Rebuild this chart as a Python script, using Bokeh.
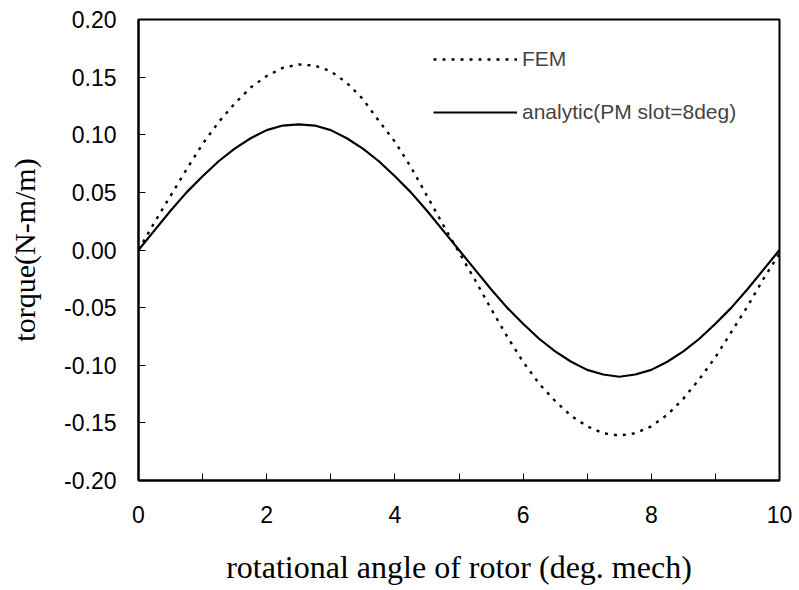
from bokeh.plotting import figure
from bokeh.models import FixedTicker, PrintfTickFormatter, Legend, LegendItem, Range1d
from bokeh.embed import file_html
from bokeh.resources import INLINE

angle = [0, 0.25, 0.5, 0.75, 1, 1.25, 1.5, 1.75, 2, 2.25, 2.5, 2.75, 3, 3.25, 3.5, 3.75, 4, 4.25, 4.5, 4.75, 5,
         5.25, 5.5, 5.75, 6, 6.25, 6.5, 6.75, 7, 7.25, 7.5, 7.75, 8, 8.25, 8.5, 8.75, 9, 9.25, 9.5, 9.75, 10]
fem = [0, 0.024, 0.047, 0.070, 0.092, 0.111, 0.127, 0.141, 0.151, 0.158, 0.161, 0.160, 0.155, 0.145, 0.131, 0.112,
       0.094, 0.072, 0.047, 0.022, -0.002,
       -0.026, -0.051, -0.075, -0.097, -0.116, -0.131, -0.144, -0.153, -0.159, -0.161, -0.159, -0.153, -0.143,
       -0.129, -0.112, -0.093, -0.071, -0.049, -0.025, -0.003]
analytic = [0, 0.017, 0.034, 0.050, 0.064, 0.077, 0.088, 0.097, 0.104, 0.108, 0.109, 0.108, 0.104, 0.097, 0.088,
            0.077, 0.064, 0.050, 0.034, 0.017, 0,
            -0.017, -0.034, -0.050, -0.064, -0.077, -0.088, -0.097, -0.104, -0.108, -0.110, -0.108, -0.104, -0.097,
            -0.088, -0.077, -0.064, -0.050, -0.034, -0.017, 0]

x_major = [0, 2, 4, 6, 8, 10]
x_minor = [1, 3, 5, 7, 9]
y_ticks = [-0.2, -0.15, -0.1, -0.05, 0.0, 0.05, 0.1, 0.15, 0.2]

labels = ["FEM", "analytic(PM slot=8deg)"]
x_title = "rotational angle of rotor (deg. mech)"
y_title = "torque(N-m/m)"

p = figure(width=799, height=590, output_backend="svg", toolbar_location=None,
           x_range=Range1d(0, 10), y_range=Range1d(-0.2, 0.2),
           min_border_left=138, min_border_right=20, min_border_top=19, min_border_bottom=110)
p.background_fill_color = "white"
p.border_fill_color = "white"
p.outline_line_color = "black"
p.outline_line_width = 2
p.grid.visible = False

r_fem = p.line(angle, fem, line_color="black", line_width=2.4, line_dash="3 6")
r_an = p.line(angle, analytic, line_color="black", line_width=2.2)

p.xaxis.ticker = FixedTicker(ticks=x_major, minor_ticks=x_minor)
p.yaxis.ticker = FixedTicker(ticks=y_ticks, minor_ticks=[])
p.yaxis.formatter = PrintfTickFormatter(format="%.2f")

for ax in (p.xaxis[0], p.yaxis[0]):
    ax.axis_line_width = 2
    ax.axis_line_color = "black"
    ax.major_tick_in = 7
    ax.major_tick_out = 0
    ax.minor_tick_in = 7
    ax.minor_tick_out = 0
    ax.major_tick_line_color = "black"
    ax.minor_tick_line_color = "black"
    ax.major_tick_line_width = 1
    ax.minor_tick_line_width = 1
    ax.major_label_text_font = "Liberation Sans"
    ax.major_label_text_font_size = "23px"
    ax.major_label_text_color = "black"
    ax.axis_label_text_font = "Liberation Serif"
    ax.axis_label_text_font_style = "normal"
    ax.axis_label_text_color = "black"

p.xaxis.axis_label = x_title
p.yaxis.axis_label = y_title
p.xaxis.axis_label_text_font_size = "32px"
p.yaxis.axis_label_text_font_size = "30px"
p.xaxis.major_label_standoff = 25
p.yaxis.major_label_standoff = 22
p.xaxis.axis_label_standoff = 23
p.yaxis.axis_label_standoff = 20

legend = Legend(items=[LegendItem(label=labels[0], renderers=[r_fem]),
                       LegendItem(label=labels[1], renderers=[r_an])],
                location=(295, 356), padding=0, margin=0, spacing=29,
                glyph_width=84, glyph_height=20, label_height=20, label_standoff=5,
                label_text_font="Liberation Sans", label_text_font_size="21px",
                border_line_color=None, background_fill_alpha=0)
p.add_layout(legend, "center")

open("out.html", "w").write(file_html(p, INLINE))
